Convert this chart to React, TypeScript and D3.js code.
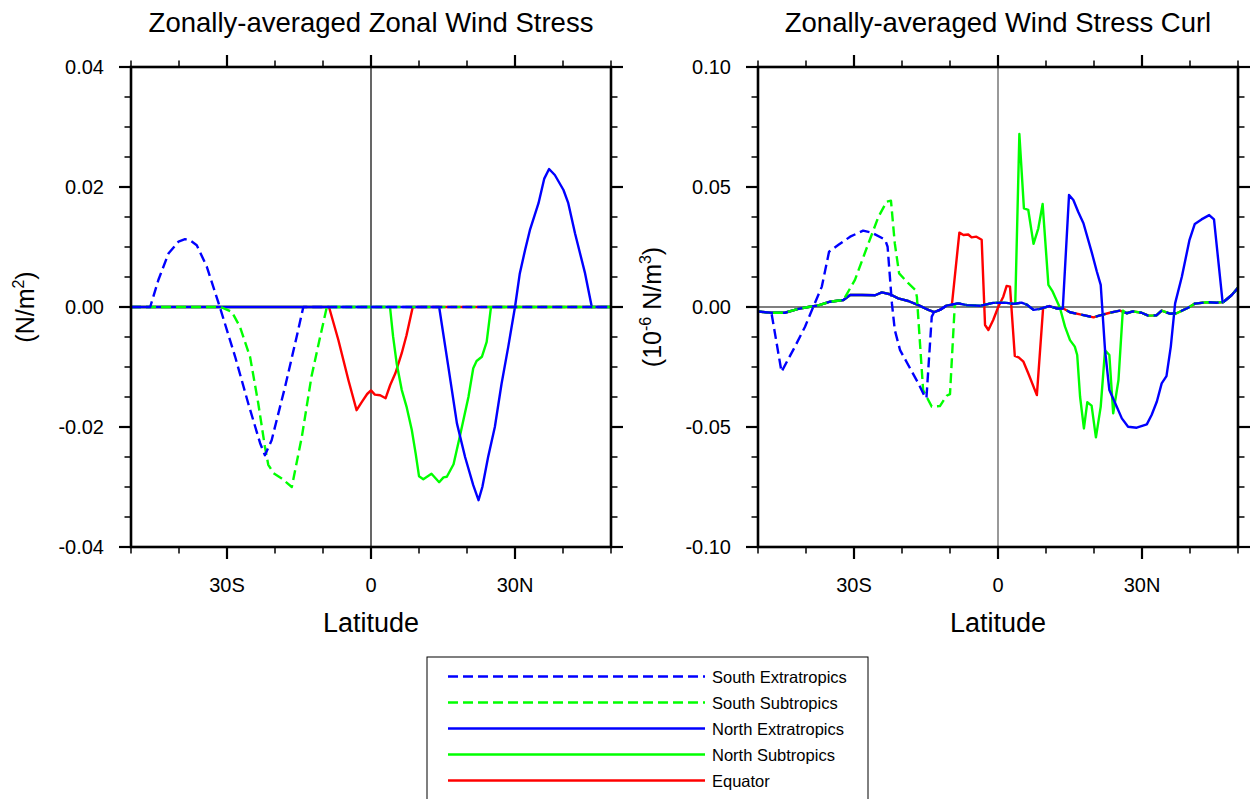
import { useEffect, useRef } from 'react'
import * as d3 from 'd3'

// ── data ─────────────────────────────────────────────────────────────────────
type Pt = [number, number] // [latitude, value]

const X_TICKS  = [-30, 0, 30]
const X_LABELS = ['30S', '0', '30N']
const X_MINOR  = [-50, -40, -20, -10, 10, 20, 40, 50]

const TAU_Y_TICKS  = [-0.04, -0.02, 0, 0.02, 0.04]
const TAU_Y_LABELS = ['-0.04', '-0.02', '0.00', '0.02', '0.04']
const CURL_Y_TICKS  = [-0.1, -0.05, 0, 0.05, 0.1]
const CURL_Y_LABELS = ['-0.10', '-0.05', '0.00', '0.05', '0.10']

// zonal wind stress, nonzero only inside each band
const TAU_SE: Pt[] = [[-46.0, 0], [-44.3, 0.0045], [-42.2, 0.0089], [-40.1, 0.0109], [-38.75, 0.0113], [-37.5, 0.011], [-36.3, 0.0103], [-34.2, 0.0067], [-31.5, 0], [-28.3, -0.0083], [-25.6, -0.016], [-23.1, -0.0227], [-22.1, -0.0247], [-20.7, -0.0222], [-17.9, -0.0133], [-15.5, -0.005], [-14.1, 0]]
const TAU_SS: Pt[] = [[-31.3, 0], [-29.0, -0.0008], [-27.3, -0.0033], [-25.2, -0.0083], [-23.5, -0.016], [-22.1, -0.0233], [-21.4, -0.0263], [-20.3, -0.0277], [-18.6, -0.0286], [-16.5, -0.030], [-14.4, -0.0216], [-12.4, -0.0116], [-10.6, -0.005], [-9.2, 0]]
const TAU_NE: Pt[] = [[14.2, 0], [16.1, -0.0099], [17.9, -0.0194], [19.6, -0.025], [21.3, -0.0297], [22.4, -0.0322], [23.2, -0.030], [24.4, -0.025], [25.8, -0.02], [27.2, -0.0128], [28.6, -0.0066], [30.0, 0], [31.0, 0.0056], [32.1, 0.0095], [33.1, 0.0128], [34.9, 0.0173], [36.1, 0.0214], [37.1, 0.023], [38.3, 0.022], [40.1, 0.0195], [41.1, 0.0173], [42.5, 0.0123], [44.6, 0.0056], [46.0, 0]]
const TAU_NS: Pt[] = [[3.96, 0], [4.6, -0.0049], [5.35, -0.0094], [6.4, -0.0138], [7.4, -0.0166], [8.5, -0.0205], [9.3, -0.0244], [10.0, -0.0282], [10.9, -0.0287], [12.6, -0.0278], [14.2, -0.0292], [15.1, -0.0284], [15.8, -0.0283], [17.2, -0.0262], [18.5, -0.0216], [20.3, -0.015], [21.3, -0.0102], [22.0, -0.009], [23.1, -0.0083], [24.1, -0.0058], [25.0, 0]]
const TAU_EQ: Pt[] = [[-8.75, 0], [-6.8, -0.0055], [-4.7, -0.0122], [-3.0, -0.0172], [-1.9, -0.0158], [-0.8, -0.0145], [0, -0.0139], [0.8, -0.0146], [1.9, -0.0147], [3.05, -0.0152], [4.0, -0.013], [5.1, -0.011], [6.4, -0.0077], [7.4, -0.0047], [8.7, 0]]

// wind stress curl: shared background curve, plus each band's own part
const CURL_BASE: Pt[] = [[-50, -0.0019], [-47.2, -0.0024], [-44.4, -0.0024], [-41.6, -0.0008], [-39.5, 0], [-37.4, 0.0007], [-35.0, 0.0022], [-32.2, 0.0029], [-30.8, 0.005], [-28.4, 0.005], [-25.6, 0.0049], [-24.2, 0.0061], [-22.5, 0.0053], [-20.8, 0.0036], [-18.7, 0.0025], [-16.6, 0.0008], [-14.5, -0.0012], [-13.3, -0.0021], [-12.1, -0.0012], [-10.7, 0.0006], [-8.3, 0.0015], [-6.5, 0.0008], [-3.75, 0.0005], [-1.0, 0.0017], [1.8, 0.0017], [3.2, 0.0013], [4.9, 0.0018], [6.0, 0.001], [7.4, -0.0012], [8.75, -0.0008], [10.7, 0.0004], [12.2, -0.0006], [13.6, -0.0006], [15.0, -0.0022], [17.1, -0.0031], [19.9, -0.0043], [21.25, -0.0035], [23.3, -0.0024], [25.4, -0.0015], [26.8, -0.0026], [28.1, -0.0018], [29.9, -0.0024], [31.3, -0.0036], [33.0, -0.0035], [34.1, -0.0015], [35.8, -0.0028], [37.2, -0.0026], [39.6, -0.0003], [41.0, 0.0014], [43.5, 0.002], [45.6, 0.0018], [47.0, 0.0021], [48.7, 0.005], [50, 0.008]]
const CURL_SE: Pt[] = [[-47.2, -0.0024], [-45.1, -0.027], [-42.3, -0.0165], [-40.2, -0.0082], [-38.5, 0], [-36.7, 0.0085], [-35.2, 0.023], [-33.3, 0.0258], [-30.8, 0.0293], [-28.1, 0.0318], [-26.3, 0.031], [-23.5, 0.028], [-23.0, 0.0251], [-22.1, 0.0015], [-21.5, -0.0096], [-20.4, -0.018], [-18.3, -0.0256], [-16.6, -0.0318], [-15.1, -0.038], [-14.9, -0.0376], [-13.8, -0.004], [-13.3, -0.0021]]
const CURL_SS: Pt[] = [[-32.2, 0.0029], [-29.8, 0.0113], [-27.0, 0.0265], [-24.9, 0.0376], [-23.2, 0.0439], [-22.3, 0.0443], [-21.5, 0.0265], [-20.6, 0.014], [-18.7, 0.0099], [-17.2, 0.0071], [-16.9, 0.0043], [-15.6, -0.0346], [-13.8, -0.0415], [-12.1, -0.0413], [-10.7, -0.037], [-10.0, -0.0363], [-9.0, 0.001], [-8.3, 0.0015]]
const CURL_NE: Pt[] = [[13.5, -0.0006], [14.8, 0.0467], [15.7, 0.0446], [16.7, 0.0397], [17.8, 0.0349], [19.5, 0.023], [20.6, 0.0147], [21.4, 0.0092], [22.3, -0.018], [23.2, -0.0346], [24.4, -0.040], [25.8, -0.0464], [27.1, -0.0499], [28.9, -0.0503], [31.0, -0.0489], [32.0, -0.045], [33.1, -0.0394], [34.1, -0.0318], [35.1, -0.0288], [36.0, -0.0165], [36.9, 0.0015], [38.3, 0.0126], [39.9, 0.028], [41.0, 0.0346], [42.4, 0.0365], [44.0, 0.0383], [45.0, 0.0365], [46.8, 0.0019]]
const CURL_NS: Pt[] = [[3.6, 0.0014], [4.45, 0.0721], [5.4, 0.0411], [6.3, 0.0405], [7.4, 0.0263], [8.4, 0.0328], [9.3, 0.0429], [10.5, 0.0092], [11.4, 0.0064], [12.9, -0.0003], [13.96, -0.0082], [15.0, -0.0138], [16.0, -0.0165], [16.5, -0.02], [17.1, -0.0374], [17.9, -0.0506], [18.6, -0.0397], [19.5, -0.0411], [20.4, -0.0543], [21.4, -0.0415], [22.3, -0.018], [23.2, -0.02], [24.0, -0.0443], [25.1, -0.0304], [26.0, -0.0015]]
const CURL_EQ: Pt[] = [[-9.6, 0.001], [-8.05, 0.031], [-7.2, 0.030], [-6.2, 0.0302], [-5.5, 0.029], [-4.5, 0.0293], [-3.4, 0.028], [-2.7, -0.0075], [-2.0, -0.0096], [-1.0, -0.0054], [0.07, 0.0001], [1.1, 0.0043], [1.8, 0.0088], [2.5, 0.0085], [3.5, -0.0204], [4.3, -0.021], [5.3, -0.0228], [6.3, -0.0276], [8.1, -0.0367], [9.4, -0.0004]]

const SERIES = [
  { label: 'South Extratropics', color: '#0000ff', dash: '10,5', tau: TAU_SE, curl: CURL_SE },
  { label: 'South Subtropics',   color: '#00ff00', dash: '10,5', tau: TAU_SS, curl: CURL_SS },
  { label: 'North Extratropics', color: '#0000ff', dash: null,   tau: TAU_NE, curl: CURL_NE },
  { label: 'North Subtropics',   color: '#00ff00', dash: null,   tau: TAU_NS, curl: CURL_NS },
  { label: 'Equator',            color: '#ff0000', dash: null,   tau: TAU_EQ, curl: CURL_EQ },
]

// ── layout ───────────────────────────────────────────────────────────────────
const W    = 1257
const H    = 799
const TOP  = 67
const SIZE = 480
const FONT = '"Liberation Sans", Arial, Helvetica, sans-serif'

const tauLine  = (r: Pt[]): Pt[] => [[-50, 0], ...r, [50, 0]]
const curlLine = (r: Pt[]): Pt[] => [
  ...CURL_BASE.filter(p => p[0] < r[0][0]),
  ...r,
  ...CURL_BASE.filter(p => p[0] > r[r.length - 1][0]),
]

const PANELS = [
  {
    left: 131, title: 'Zonally-averaged Zonal Wind Stress',
    yDomain: [-0.04, 0.04], yTicks: TAU_Y_TICKS, yLabels: TAU_Y_LABELS, yMinorStep: 0.005,
    units: [['(N/m', false], ['2', true], [')', false]] as [string, boolean][],
    lines: SERIES.map(s => tauLine(s.tau)), vColor: '#000',
  },
  {
    left: 758, title: 'Zonally-averaged Wind Stress Curl',
    yDomain: [-0.1, 0.1], yTicks: CURL_Y_TICKS, yLabels: CURL_Y_LABELS, yMinorStep: 0.0125,
    units: [['(10', false], ['-6', true], [' N/m', false], ['3', true], [')', false]] as [string, boolean][],
    lines: SERIES.map(s => curlLine(s.curl)), vColor: '#555',
  },
]

export default function App() {
  const ref = useRef<SVGSVGElement>(null)

  useEffect(() => {
    if (!ref.current) return
    const svg = d3.select(ref.current)
    svg.selectAll('*').remove()
    svg.append('rect').attr('width', W).attr('height', H).attr('fill', '#fff')

    PANELS.forEach((p, pi) => {
      const x = d3.scaleLinear().domain([-50, 50]).range([p.left, p.left + SIZE])
      const y = d3.scaleLinear().domain(p.yDomain).range([TOP + SIZE, TOP])
      const g = svg.append('g')

      const clipId = `clip-${pi}`
      g.append('clipPath').attr('id', clipId)
        .append('rect').attr('x', p.left).attr('y', TOP).attr('width', SIZE).attr('height', SIZE)

      // reference lines
      g.append('line')
        .attr('x1', x(-50)).attr('x2', x(50)).attr('y1', y(0)).attr('y2', y(0))
        .attr('stroke', '#000').attr('stroke-width', 1.2)
      g.append('line')
        .attr('x1', x(0)).attr('x2', x(0)).attr('y1', TOP).attr('y2', TOP + SIZE)
        .attr('stroke', p.vColor).attr('stroke-width', 1.2)

      // series, last legend entry underneath
      const line = d3.line<Pt>().x(d => x(d[0])).y(d => y(d[1]))
      const lg = g.append('g').attr('clip-path', `url(#${clipId})`)
      SERIES.map((s, i) => ({ s, pts: p.lines[i] })).reverse().forEach(({ s, pts }) => {
        lg.append('path')
          .attr('d', line(pts) ?? '')
          .attr('fill', 'none')
          .attr('stroke', s.color)
          .attr('stroke-width', 2.4)
          .attr('stroke-linejoin', 'round')
          .attr('stroke-dasharray', s.dash)
      })

      // ticks, outward on all four sides
      const yMinor = d3.range(p.yDomain[0], p.yDomain[1] + 1e-9, p.yMinorStep)
        .filter(v => !p.yTicks.some(t => Math.abs(t - v) < 1e-9))
      const tk = g.append('g').attr('stroke', '#000')
      const tick = (x1: number, y1: number, x2: number, y2: number, w: number) =>
        tk.append('line').attr('x1', x1).attr('y1', y1).attr('x2', x2).attr('y2', y2).attr('stroke-width', w)
      X_TICKS.forEach(v => { tick(x(v), TOP + SIZE, x(v), TOP + SIZE + 12, 2.2); tick(x(v), TOP, x(v), TOP - 12, 2.2) })
      X_MINOR.forEach(v => { tick(x(v), TOP + SIZE, x(v), TOP + SIZE + 6.5, 1.5); tick(x(v), TOP, x(v), TOP - 6.5, 1.5) })
      p.yTicks.forEach(v => { tick(p.left, y(v), p.left - 12, y(v), 2.2); tick(p.left + SIZE, y(v), p.left + SIZE + 12, y(v), 2.2) })
      yMinor.forEach(v => { tick(p.left, y(v), p.left - 6.5, y(v), 1.5); tick(p.left + SIZE, y(v), p.left + SIZE + 6.5, y(v), 1.5) })

      // border
      g.append('rect')
        .attr('x', p.left).attr('y', TOP).attr('width', SIZE).attr('height', SIZE)
        .attr('fill', 'none').attr('stroke', '#000').attr('stroke-width', 2.6)

      // tick labels
      g.selectAll('text.yl').data(p.yTicks).join('text')
        .attr('x', p.left - 27).attr('y', v => y(v))
        .attr('text-anchor', 'end').attr('dominant-baseline', 'central')
        .attr('font-family', FONT).attr('font-size', 20)
        .text((_, i) => p.yLabels[i])
      g.selectAll('text.xl').data(X_TICKS).join('text')
        .attr('x', v => x(v)).attr('y', TOP + SIZE + 45)
        .attr('text-anchor', 'middle')
        .attr('font-family', FONT).attr('font-size', 20)
        .text((_, i) => X_LABELS[i])

      // titles
      g.append('text')
        .attr('x', x(0)).attr('y', 32).attr('text-anchor', 'middle')
        .attr('font-family', FONT).attr('font-size', 27.5)
        .text(p.title)
      g.append('text')
        .attr('x', x(0)).attr('y', TOP + SIZE + 85).attr('text-anchor', 'middle')
        .attr('font-family', FONT).attr('font-size', 27)
        .text('Latitude')
      const yt = g.append('text')
        .attr('transform', `translate(${p.left - 97},${y(0)}) rotate(-90)`)
        .attr('text-anchor', 'middle')
        .attr('font-family', FONT).attr('font-size', 25)
      let up = false
      p.units.forEach(([t, sup]) => {
        const dy = sup && !up ? -10 : !sup && up ? 10 : 0
        up = sup
        yt.append('tspan').attr('dy', dy).attr('font-size', sup ? 16 : 25).text(t)
      })
    })

    // legend
    const lx = 427, ly = 657
    const leg = svg.append('g')
    leg.append('rect')
      .attr('x', lx).attr('y', ly).attr('width', 441).attr('height', 160)
      .attr('fill', '#fff').attr('stroke', '#000').attr('stroke-width', 1)
    SERIES.forEach((s, i) => {
      const yy = ly + 19.5 + i * 26
      leg.append('line')
        .attr('x1', lx + 21).attr('x2', lx + 278).attr('y1', yy).attr('y2', yy)
        .attr('stroke', s.color).attr('stroke-width', 2.4).attr('stroke-dasharray', s.dash)
      leg.append('text')
        .attr('x', lx + 285).attr('y', yy).attr('dominant-baseline', 'central')
        .attr('font-family', FONT).attr('font-size', 16.5)
        .text(s.label)
    })
  }, [])

  return (
    <svg
      ref={ref}
      width={W}
      height={H}
      viewBox={`0 0 ${W} ${H}`}
      style={{ position: 'absolute', left: 0, top: 0, display: 'block' }}
    />
  )
}
